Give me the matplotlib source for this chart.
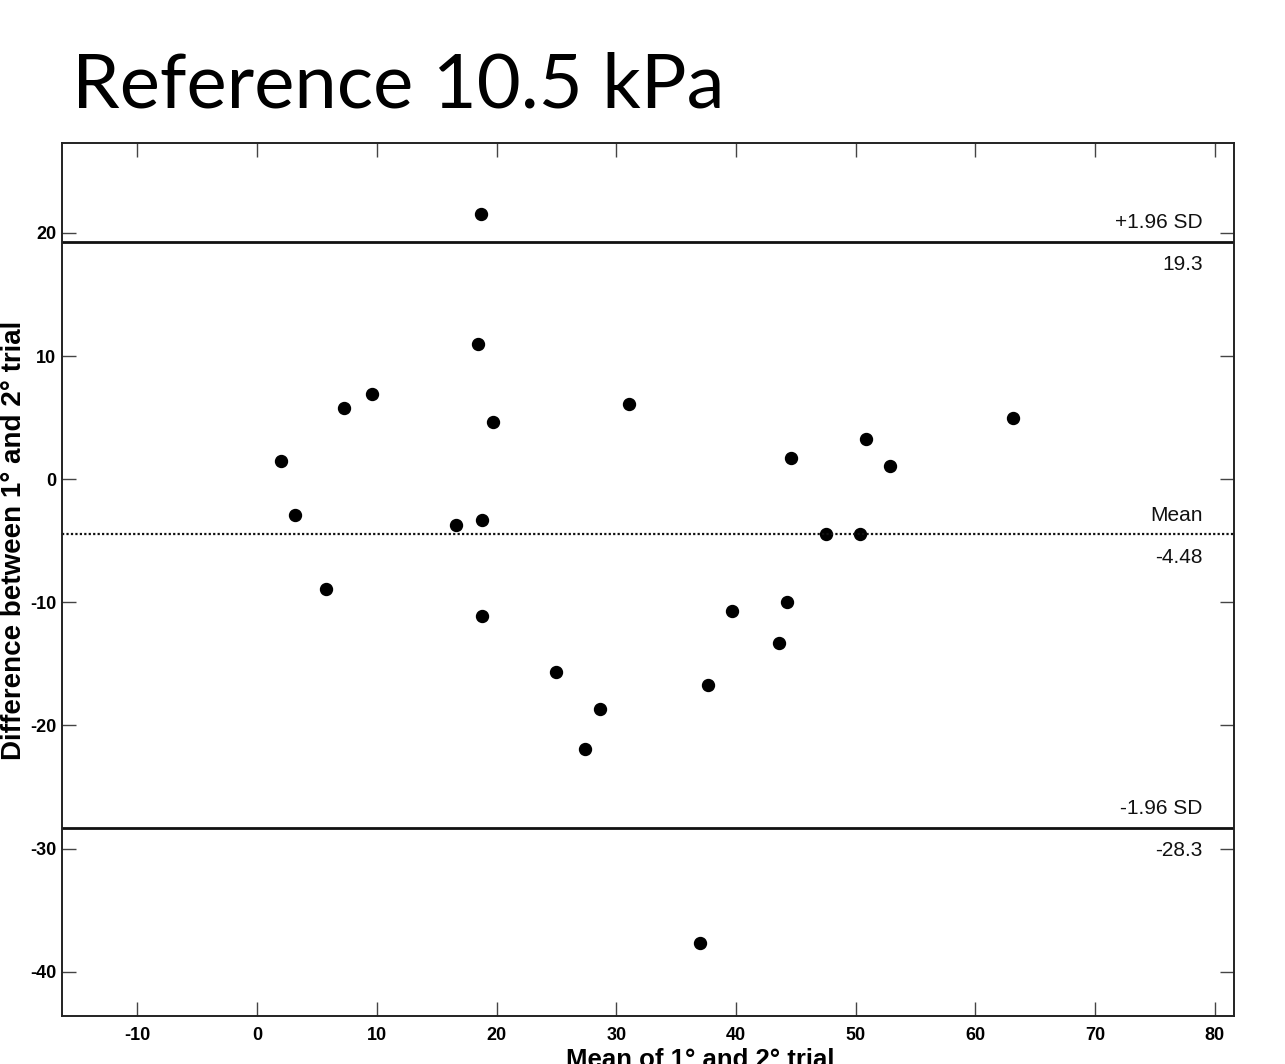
import matplotlib
matplotlib.use("Agg")
import matplotlib.pyplot as plt
import numpy as np

plt.rcParams['axes.unicode_minus'] = False

# Bland-Altman data: mean of trials vs difference between trials
mean_trials = [18.7, 18.45, 9.6, 7.27, 2.0, 3.17, 5.76, 16.6, 18.8, 19.7,
               18.8, 25.0, 27.4, 28.6, 31.1, 37.0, 37.7, 39.7, 43.6, 44.3,
               44.6, 47.5, 50.4, 50.9, 52.9, 63.1]
diff_trials = [21.5, 10.96, 6.9, 5.76, 1.46, -2.92, -8.93, -3.73, -3.33, 4.63,
               -11.1, -15.7, -21.9, -18.7, 6.09, -37.7, -16.7, -10.7, -13.3, -9.98,
               1.7, -4.46, -4.46, 3.25, 1.06, 4.95]

mean_diff = -4.48
upper_loa = 19.3
lower_loa = -28.3

x_ticks = [-10, 0, 10, 20, 30, 40, 50, 60, 70, 80]
y_ticks = [-40, -30, -20, -10, 0, 10, 20]

fig = plt.figure(figsize=(12.85, 10.64), dpi=100)
ax = fig.add_axes([62 / 1285, 1 - 1016 / 1064, 1172 / 1285, 873 / 1064])

ax.plot(mean_trials, diff_trials, 'o', color='black', markersize=8.6)

ax.axhline(upper_loa, color='#111111', lw=2.0)
ax.axhline(lower_loa, color='#111111', lw=2.0)
ax.axhline(mean_diff, color='#111111', lw=1.6, linestyle=(0, (1, 1)))

ax.set_xlim(-16.3, 81.6)
ax.set_ylim(-43.6, 27.3)
ax.set_xticks(x_ticks)
ax.set_yticks(y_ticks)
ax.tick_params(direction='in', length=10, width=1.0, color='#444444',
               top=True, right=True, labelsize=13)
ax.tick_params(axis='x', pad=8)
ax.tick_params(axis='y', pad=4)
for lab in ax.get_xticklabels() + ax.get_yticklabels():
    lab.set_fontweight('bold')
    lab.set_fontfamily('Liberation Sans')
for sp in ax.spines.values():
    sp.set_linewidth(1.4)
    sp.set_color('#222222')

# limit labels
lbl_x = 79.0
kw = dict(ha='right', fontsize=15, family='Liberation Sans', color='#111111')
for val, top_txt, bot_txt in [(upper_loa, '+1.96 SD', '19.3'),
                              (mean_diff, 'Mean', '-4.48'),
                              (lower_loa, '-1.96 SD', '-28.3')]:
    ax.annotate(top_txt, (lbl_x, val), xytext=(0, 7), textcoords='offset points',
                va='bottom', **kw)
    ax.annotate(bot_txt, (lbl_x, val), xytext=(0, -10), textcoords='offset points',
                va='top', **kw)

fig.text(14 / 1285, 1 - 540 / 1064, 'Difference between 1° and 2° trial',
         rotation=90, ha='center', va='center', fontsize=20, fontweight='bold',
         family='Liberation Sans')
fig.text(700 / 1285, 1 - 1048 / 1064, 'Mean of 1° and 2° trial',
         ha='center', va='top', fontsize=18.5, fontweight='bold',
         family='Liberation Sans')

fig.text(72 / 1285, 1 - 108 / 1064, 'Reference 10.5 kPa', ha='left', va='baseline',
         fontsize=54.7, family='Lato')

fig.savefig('out.png', dpi=100, facecolor='white')
